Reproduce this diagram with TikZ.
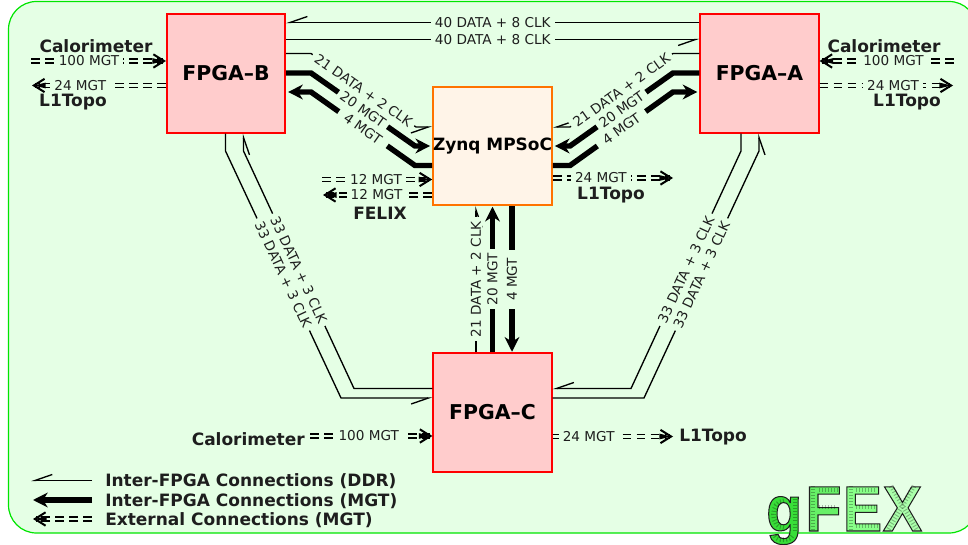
\documentclass[tikz,border=0pt]{standalone}
\usepackage{fontspec}
\setmainfont{DejaVu Sans}
\newfontfamily\logoedge{Liberation Sans Bold}[FakeStretch=0.92,FakeBold=1.6]
\usetikzlibrary{arrows.meta,calc}
\definecolor{bgc}{HTML}{E5FFE5}
\definecolor{txtc}{HTML}{1E1E1E}
\definecolor{logog}{HTML}{38DE38}
\definecolor{logof}{HTML}{66F066}
\definecolor{logoe}{HTML}{88FF88}
\definecolor{logox}{HTML}{AAFFAA}
\tikzset{
  fpga/.style={draw=red,fill=red!20,line width=1.3pt,minimum width=88.8pt,minimum height=88.8pt,inner sep=0pt,font=\fontsize{15.3}{17}\selectfont\bfseries},
  zynq/.style={draw=orange!90!red,fill=orange!9,line width=1.3pt,minimum width=88.8pt,minimum height=88.8pt,inner sep=0pt,font=\fontsize{12.7}{14}\selectfont\bfseries},
  ddrtip/.tip={Straight Barb[harpoon,swap,length=13pt,width=9pt]},
  ddr/.style={line width=1pt,line join=miter},
  mgt/.style={line width=4.1pt,line join=miter},
  mgttip/.tip={Stealth[length=11pt,width=11pt,inset=3.5pt]},
  ext/.style={double=bgc,double distance=2.2pt,line width=1.05pt,dash pattern=on 6.6pt off 3.9pt,-{Stealth[length=9pt,width=4pt,inset=0pt,sep=-9pt]Straight Barb[length=8pt,width=10pt,line width=1.5pt]}},
  lab/.style={font=\fontsize{10.2}{12}\selectfont,text=txtc,inner sep=0pt},
  gaplab/.style={lab,fill=bgc,inner xsep=3pt,inner ysep=0.5pt},
  title/.style={font=\fontsize{12.75}{15}\selectfont\bfseries,text=txtc,inner sep=0pt},
  speck/.style={draw=black,opacity=0.28,line width=3.6pt,dash pattern=on 0.7pt off 1.6pt},
}
\newcommand{\logoletter}[2]{{\color{#2}\special{pdf:code 0.12 G}#1}}
\begin{document}
\begin{tikzpicture}[x=0.75pt,y=-0.75pt]
\useasboundingbox (0,0) rectangle (968,545);
\begin{scope}
\clip (0,0) rectangle (968,545);
\draw[draw=green!90!black,fill=bgc,line width=0.9pt,rounded corners=21pt] (8.5,1.5) rectangle (977,533);
\end{scope}
\node[fpga] (fb) at (226,73.5) {FPGA–B};
\node[fpga] (fa) at (759.5,73.5) {FPGA–A};
\node[fpga] (fc) at (492.5,412.5) {FPGA–C};
\node[zynq] (zq) at (492.5,146) {Zynq MPSoC};
% logo
\node[anchor=base west,inner sep=0pt,font=\fontsize{48}{50}\selectfont\logoedge] (logo) at (766,531) {\logoletter{g}{logog}\kern2.5pt\logoletter{F}{logof}\kern1pt\logoletter{E}{logoe}\kern0.5pt\logoletter{X}{logox}};
\draw[speck] (813,486) -- (813,530);
\draw[speck] (819,490) -- (838,490);
\draw[speck] (819,507) -- (835,507);
\draw[speck] (851,486) -- (851,530);
\draw[speck] (856,490) -- (877,490);
\draw[speck] (856,507) -- (875,507);
\draw[speck] (856,526) -- (878,526);
\draw[speck] (891,486) -- (917,530);
\draw[speck] (914,486) -- (888,530);
\draw[speck] (795,499) -- (795,532);
\draw[speck] (784,501) .. controls (770,501) and (770,528) .. (784,528);
\draw[speck] (775,536) .. controls (777,541) and (790,541) .. (793,535);
% FPGA-B <-> FPGA-A
\draw[ddr,ddrtip-] (fb.east |- 0,22.5) -- node[gaplab] (t1) {40 DATA + 8 CLK} (fa.west |- 0,22.5);
\draw[ddr,-ddrtip] (fb.east |- 0,39.5) -- node[gaplab] (t2) {40 DATA + 8 CLK} (fa.west |- 0,39.5);
% FPGA-B <-> Zynq
\draw[ddr,-ddrtip] (fb.east |- 0,53.5) -- (311,53.5) -- node[gaplab,sloped] (l1) {21 DATA + 2 CLK} (416,127) -- (zq.west |- 0,127);
\draw[mgt,-mgttip,shorten >=1.5pt] (fb.east |- 0,73) -- (311,73) -- node[gaplab,sloped] (l2) {20 MGT} (415,146) -- (zq.west |- 0,146);
\draw[mgt,-mgttip,shorten >=1.5pt] (zq.west |- 0,165.5) -- (415,165.5) -- node[gaplab,sloped,inner xsep=6pt] (l3) {4 MGT} (311,92) -- (fb.east |- 0,92);
% FPGA-A <-> Zynq
\draw[ddr,-ddrtip] (fa.west |- 0,53.5) -- (673,53.5) -- node[gaplab,sloped] (r1) {21 DATA + 2 CLK} (570,127) -- (zq.east |- 0,127);
\draw[mgt,-mgttip,shorten >=1.5pt] (fa.west |- 0,73) -- (673,73) -- node[gaplab,sloped] (r2) {20 MGT} (570,146) -- (zq.east |- 0,146);
\draw[mgt,-mgttip,shorten >=1.5pt] (zq.east |- 0,165.5) -- (570,165.5) -- node[gaplab,sloped,inner xsep=6pt] (r3) {4 MGT} (673,92) -- (fa.west |- 0,92);
% FPGA-C <-> Zynq
\draw[ddr,-ddrtip] (fc.north -| 476,0) -- node[gaplab,sloped,pos=0.5] (c1) {21 DATA + 2 CLK} (zq.south -| 476,0);
\draw[mgt,-mgttip,shorten >=0.5pt] (fc.north -| 492.5,0) -- node[gaplab,sloped] (c2) {20 MGT} (zq.south -| 492.5,0);
\draw[mgt,mgttip-,shorten <=0.5pt] (fc.north -| 512,0) -- node[gaplab,sloped,inner xsep=6pt] (c3) {4 MGT} (zq.south -| 512,0);
% FPGA-B <-> FPGA-C
\draw[ddr,-ddrtip] (fb.south -| 225.5,0) -- (225.5,151) -- node[gaplab,sloped,inner ysep=0pt] (bl1) {33 DATA + 3 CLK} (341,398) -- (fc.west |- 0,398);
\draw[ddr,ddrtip-] (fb.south -| 243.5,0) -- (243.5,151) -- node[gaplab,sloped,inner ysep=0pt] (bl2) {33 DATA + 3 CLK} (354,388.5) -- (fc.west |- 0,388.5);
% FPGA-A <-> FPGA-C
\draw[ddr,-ddrtip] (fa.south -| 741,0) -- (741,151) -- node[gaplab,sloped,inner ysep=0pt] (br1) {33 DATA + 3 CLK} (631,388.5) -- (fc.east |- 0,388.5);
\draw[ddr,ddrtip-] (fa.south -| 759,0) -- (759,151) -- node[gaplab,sloped,inner ysep=0pt] (br2) {33 DATA + 3 CLK} (644,398) -- (fc.east |- 0,398);
% external FPGA-B
\coordinate (bc) at (31,61);
\coordinate (bl) at (32,85.5);
\draw[ext] (bc) -- node[gaplab,pos=0.43] (x1) {100 MGT} (fb.west |- bc);
\draw[ext] (fb.west |- bl) -- node[gaplab,pos=0.64] (x2) {24 MGT} (bl);
\node[title] (t3) at (96,46.5) {Calorimeter};
\node[title] (t4) at (73,102.5) {L1Topo};
% external FPGA-A
\coordinate (ac) at (954,61);
\coordinate (al) at (953,85.5);
\draw[ext] (ac) -- node[gaplab,pos=0.45] (x3) {100 MGT} (fa.east |- ac);
\draw[ext] (fa.east |- al) -- node[gaplab,pos=0.55] (x4) {24 MGT} (al);
\node[title] (t5) at (884,46.5) {Calorimeter};
\node[title] (t6) at (907,102.5) {L1Topo};
% external Zynq
\coordinate (zl1) at (322,179.5);
\coordinate (zl2) at (323,195);
\coordinate (zr) at (673,178);
\draw[ext] (zl1) -- node[gaplab,pos=0.49] (x5) {12 MGT} (zq.west |- zl1);
\draw[ext] (zq.west |- zl2) -- node[gaplab,pos=0.51] (x6) {12 MGT} (zl2);
\draw[ext] (zq.east |- zr) -- node[gaplab,pos=0.4] (x7) {24 MGT} (zr);
\node[title] (t7) at (380,213) {FELIX};
\node[title] (t8) at (611,195.5) {L1Topo};
% external FPGA-C
\coordinate (cc) at (310,436);
\coordinate (cl) at (673,436.5);
\draw[ext] (cc) -- node[gaplab,pos=0.48] (x8) {100 MGT} (fc.west |- cc);
\draw[ext] (fc.east |- cl) -- node[gaplab,pos=0.3] (x9) {24 MGT} (cl);
\node[title,anchor=east] (t9) at (305,439) {Calorimeter};
\node[title,anchor=west] (t10) at (679,437.5) {L1Topo};
% legend
\coordinate (k1a) at (92,480.5);
\coordinate (k1b) at (31,480.5);
\coordinate (k2a) at (92,500);
\coordinate (k2b) at (33,500);
\coordinate (k3a) at (92,519);
\coordinate (k3b) at (33,519);
\draw[ddr,-ddrtip] (k1a) -- (k1b);
\draw[mgt,-mgttip] (k2a) -- (k2b);
\draw[ext] (k3a) -- (k3b);
\node[title,anchor=west] (k1) at (105,481.5) {Inter-FPGA Connections (DDR)};
\node[title,anchor=west] (k2) at (105,501) {Inter-FPGA Connections (MGT)};
\node[title,anchor=west] (k3) at (105,520) {External Connections (MGT)};
\end{tikzpicture}
\end{document}
